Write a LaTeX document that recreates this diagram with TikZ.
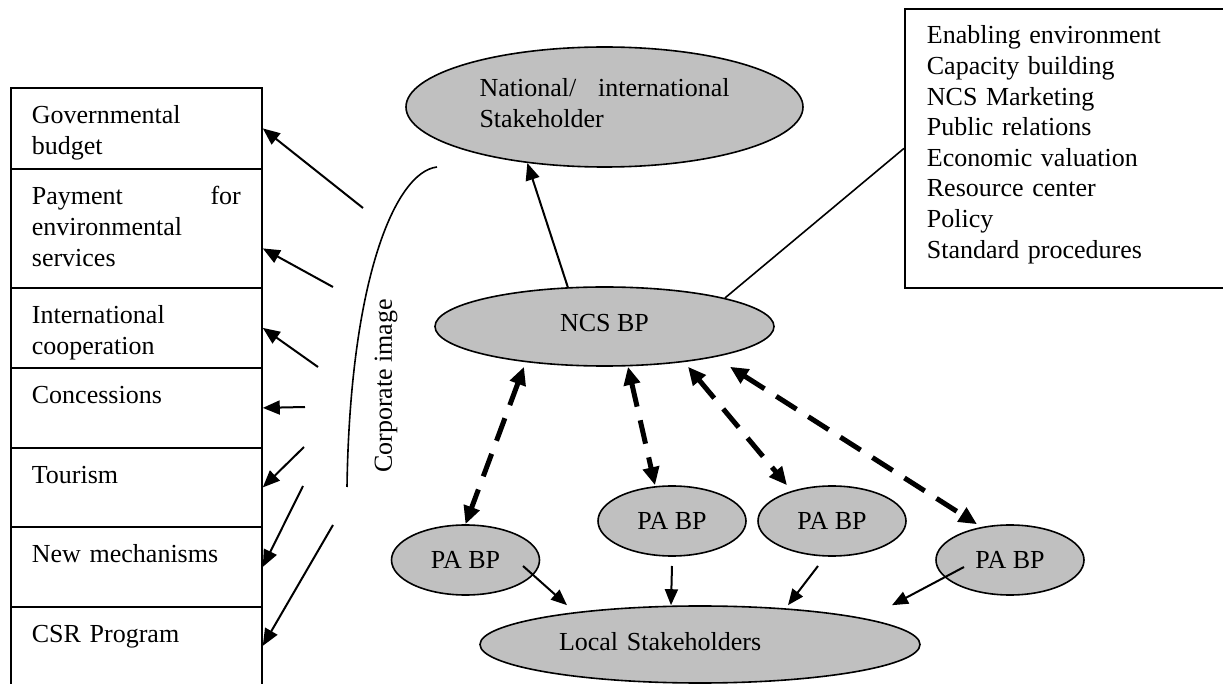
\documentclass[tikz,border=0pt]{standalone}
\usepackage{fontspec}
\setmainfont{Liberation Serif}
\usetikzlibrary{calc,arrows.meta,shapes.geometric}
\definecolor{shade}{HTML}{C0C0C0}
\newcommand{\diagfont}{\fontsize{13}{15.3}\selectfont}

\begin{document}
\begin{tikzpicture}[x=0.5pt,y=-0.5pt,
  every node/.style={font=\diagfont},
  fundbox/.style={draw,line width=0.9pt,anchor=north west,text width=104.5pt,inner xsep=10.5pt,inner ysep=0pt,text height=18pt,align=left},
  stake/.style={ellipse,draw,line width=0.8pt,fill=shade,inner sep=0pt},
  pabp/.style={stake,minimum width=74pt,minimum height=35pt},
  flow/.style={line width=1pt,-{Triangle[length=8.5pt,width=7pt]}},
  feed/.style={line width=1pt,-{Triangle[length=8pt,width=6.5pt]}},
  link/.style={line width=2.5pt,dash pattern=on 12pt off 7pt,{Triangle[length=9pt,width=8pt]}-{Triangle[length=9pt,width=8pt]}}]
\useasboundingbox (0,0) rectangle (1223,684);
\clip (0,0) rectangle (1223,684);

% funding sources
\node[fundbox,text depth=22.5pt] (gov) at (10,87) {Governmental\\budget};
\node[fundbox,text depth=41.5pt] (pes) at (10,168) {Payment\hfill for\\environmental\\services};
\node[fundbox,text depth=22pt] (intl) at (10,287) {International\\cooperation};
\node[fundbox,text depth=22pt] (conc) at (10,367) {Concessions};
\node[fundbox,text depth=21.5pt] (tour) at (10,447) {Tourism};
\node[fundbox,text depth=22pt] (newm) at (10,526) {New mechanisms};
\node[fundbox,text depth=32pt] (csr) at (10,606) {CSR Program};

% stakeholders and business plans
\node[stake,minimum width=198.5pt,minimum height=60pt,text width=125pt,align=left,text depth=19.5pt] (nat) at (604.5,107) {National/\hfill international\\Stakeholder};
\node[stake,minimum width=169.5pt,minimum height=39.5pt,text depth=4pt] (ncs) at (604.5,326.5) {NCS BP};
\node[pabp] (pa1) at (465.5,560) {PA BP};
\node[pabp] (pa2) at (672,521) {PA BP};
\node[pabp] (pa3) at (832,521) {PA BP};
\node[pabp] (pa4) at (1010,560) {PA BP};
\node[stake,minimum width=220pt,minimum height=38.5pt,text width=141pt,align=left,text depth=3.5pt] (local) at (700,644.5) {Local Stakeholders};

\node[draw,line width=0.9pt,anchor=north west,text width=170pt,inner xsep=11pt,inner ysep=0pt,text height=17.5pt,text depth=122pt,align=left] (tasks) at (904,8)
  {Enabling environment\\Capacity building\\NCS Marketing\\Public relations\\Economic valuation\\Resource center\\Policy\\Standard procedures};

% corporate image
\draw[line width=0.8pt] (437,167) .. controls (395,172) and (350,280) .. (347,487);
\node[rotate=90] (corp) at (386,386) {Corporate image};
\foreach \i/\x/\y/\dst in {1/363/208/gov.east,2/333/287/pes.-9.3,3/318/367/intl.east,4/305/407/conc.east,5/304/447/tour.east,6/303/486/newm.east,7/333/525/csr.5.9}
  {\coordinate (img\i) at (\x,\y);
   \draw[flow] (img\i) -- (\dst);}

\draw[flow] (ncs.133) -- (nat.-144);
\draw[line width=0.8pt] (ncs.north east) -- (tasks.west);

\draw[link] ($(ncs.south)+(-80.5,0)$) -- (pa1.north);
\draw[link] ($(ncs.south)+(23.5,0)$) -- ($(pa2.north)+(-17,0)$);
\draw[link] ($(ncs.south)+(83.5,0)$) -- ($(pa3.north)+(-45,0)$);
\draw[link] ($(ncs.south)+(125.5,0)$) -- ($(pa4.north)+(-33,0)$);

\draw[feed] ($(pa1)+(57.5,6)$) -- ($(local.north)+(-133,0)$);
\draw[feed] ($(pa2)+(0,45)$) -- ($(local.north)+(-29,0)$);
\draw[feed] ($(pa3)+(-14,45)$) -- ($(local.north)+(88,0)$);
\draw[feed] ($(pa4)+(-46,7)$) -- ($(local.north)+(192,0)$);
\end{tikzpicture}
\end{document}
